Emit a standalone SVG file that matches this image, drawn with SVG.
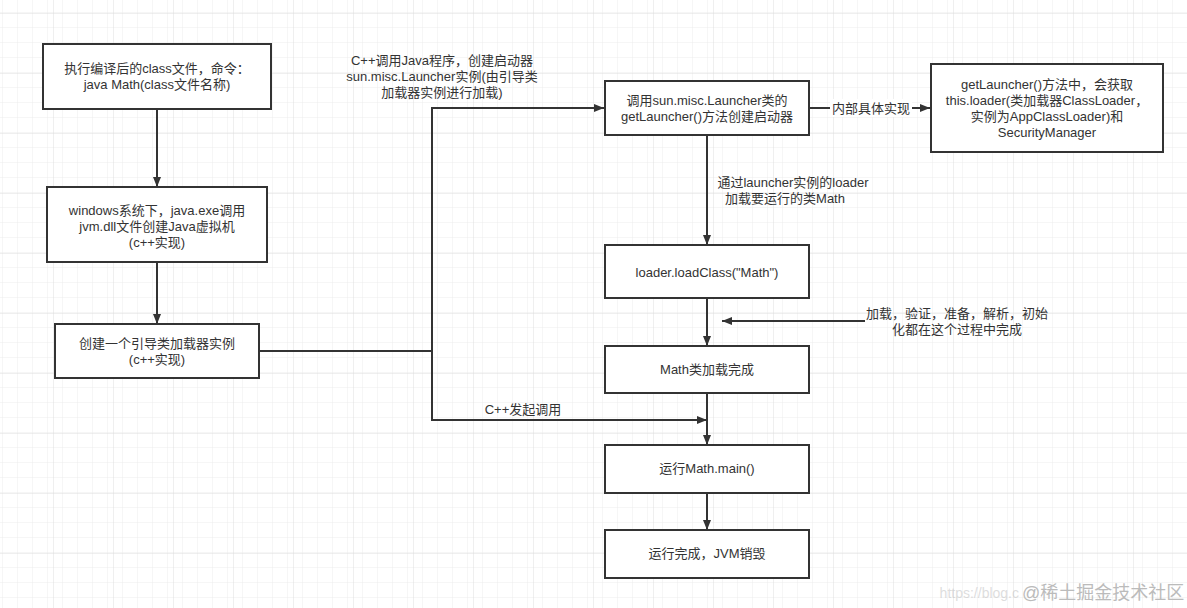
<svg xmlns="http://www.w3.org/2000/svg" width="1187" height="608" viewBox="0 0 1187 608">
<defs>
<pattern id="minor" x="-6" y="14" width="15" height="15" patternUnits="userSpaceOnUse">
<path d="M15 0 V15 M0 15 H15" fill="none" stroke="#ececec" stroke-width="1"/>
</pattern>
<pattern id="major" x="-6" y="14" width="60" height="60" patternUnits="userSpaceOnUse">
<rect width="60" height="60" fill="url(#minor)"/>
<path d="M60 0 V60 M0 60 H60" fill="none" stroke="#dedede" stroke-width="1"/>
</pattern>
<marker id="arr" viewBox="0 0 10 10" refX="10" refY="5" markerWidth="10" markerHeight="10" markerUnits="userSpaceOnUse" orient="auto">
<path d="M0 1 L10 5 L0 9 Z" fill="#333"/>
</marker>
<style>
.box{fill:#fff;stroke:#333;stroke-width:2}
.t{font-family:"Liberation Sans","Noto Sans CJK SC",sans-serif;font-size:13px;fill:#333;text-anchor:middle}
.ln{fill:none;stroke:#333;stroke-width:2}
.wm{font-family:"Liberation Sans","Noto Sans CJK SC",sans-serif;fill:#bbb}
</style>
</defs>
<rect width="1187" height="608" fill="#fff"/>
<rect width="1187" height="608" fill="url(#major)"/>

<g id="connectors">
<line class="ln" x1="157" y1="109" x2="157" y2="187" marker-end="url(#arr)"/>
<line class="ln" x1="157" y1="262" x2="157" y2="324" marker-end="url(#arr)"/>
<polyline class="ln" points="259,351 432,351 432,108 604,108" marker-end="url(#arr)"/>
<polyline class="ln" points="432,351 432,420 707,420" marker-end="url(#arr)"/>
<line class="ln" x1="809" y1="108" x2="930" y2="108" marker-end="url(#arr)"/>
<rect x="830" y="99" width="82" height="18" fill="#fff"/>
<text class="t" x="871" y="113">内部具体实现</text>
<line class="ln" x1="707" y1="135" x2="707" y2="245" marker-end="url(#arr)"/>
<text class="t"><tspan x="793" y="187">通过launcher实例的loader</tspan><tspan x="785" y="203">加载要运行的类Math</tspan></text>
<line class="ln" x1="707" y1="298" x2="707" y2="346" marker-end="url(#arr)"/>
<line class="ln" x1="865" y1="321" x2="722" y2="321" marker-end="url(#arr)"/>
<text class="t"><tspan x="957" y="318">加载，验证，准备，解析，初始</tspan><tspan x="957" y="334">化都在这个过程中完成</tspan></text>
<line class="ln" x1="707" y1="393" x2="707" y2="445" marker-end="url(#arr)"/>
<text class="t" x="523" y="414">C++发起调用</text>
<line class="ln" x1="707" y1="493" x2="707" y2="530" marker-end="url(#arr)"/>
<text class="t"><tspan x="442" y="65">C++调用Java程序，创建启动器</tspan><tspan x="442" y="81">sun.misc.Launcher实例(由引导类</tspan><tspan x="442" y="97">加载器实例进行加载)</tspan></text>
</g>

<g id="n1">
<rect class="box" x="43" y="44" width="228" height="65"/>
<text class="t"><tspan x="157" y="73">执行编译后的class文件，命令：</tspan><tspan x="157" y="89">java Math(class文件名称)</tspan></text>
</g>
<g id="n2">
<rect class="box" x="47" y="187" width="220" height="75"/>
<text class="t"><tspan x="157" y="215">windows系统下，java.exe调用</tspan><tspan x="157" y="231">jvm.dll文件创建Java虚拟机</tspan><tspan x="157" y="247">(c++实现)</tspan></text>
</g>
<g id="n3">
<rect class="box" x="55" y="324" width="204" height="54"/>
<text class="t"><tspan x="157" y="348">创建一个引导类加载器实例</tspan><tspan x="157" y="364">(c++实现)</tspan></text>
</g>
<g id="n4">
<rect class="box" x="605" y="81" width="204" height="54"/>
<text class="t"><tspan x="707" y="105">调用sun.misc.Launcher类的</tspan><tspan x="707" y="121">getLauncher()方法创建启动器</tspan></text>
</g>
<g id="n5">
<rect class="box" x="931" y="64" width="232" height="88"/>
<text class="t"><tspan x="1047" y="89">getLauncher()方法中，会获取</tspan><tspan x="1047" y="105">this.loader(类加载器ClassLoader，</tspan><tspan x="1047" y="121">实例为AppClassLoader)和</tspan><tspan x="1047" y="137">SecurityManager</tspan></text>
</g>
<g id="n6">
<rect class="box" x="605" y="245" width="204" height="53"/>
<text class="t" x="707" y="277">loader.loadClass("Math")</text>
</g>
<g id="n7">
<rect class="box" x="605" y="346" width="204" height="47"/>
<text class="t" x="707" y="374">Math类加载完成</text>
</g>
<g id="n8">
<rect class="box" x="605" y="445" width="204" height="48"/>
<text class="t" x="707" y="473">运行Math.main()</text>
</g>
<g id="n9">
<rect class="box" x="605" y="530" width="204" height="48"/>
<text class="t" x="707" y="558">运行完成，JVM销毁</text>
</g>

<text class="wm" x="1019" y="598" font-size="14" fill-opacity="0.5" text-anchor="end">https://blog.c</text>
<text class="wm" x="1022" y="599" font-size="18">@稀土掘金技术社区</text>
</svg>
